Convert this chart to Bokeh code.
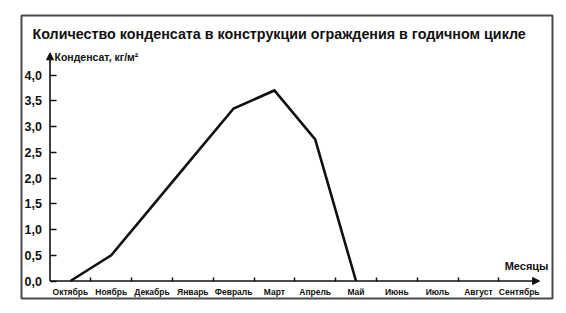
import math
from bokeh.plotting import figure
from bokeh.models import FixedTicker, Arrow, NormalHead, Label, Range1d
from bokeh.embed import file_html
from bokeh.resources import INLINE

months = ["Октябрь", "Ноябрь", "Декабрь", "Январь", "Февраль", "Март",
          "Апрель", "Май", "Июнь", "Июль", "Август", "Сентябрь"]
condensate = [0.0, 0.5, 1.45, 2.4, 3.35, 3.7, 2.75, 0.0,
              math.nan, math.nan, math.nan, math.nan]
y_ticks = [0.0, 0.5, 1.0, 1.5, 2.0, 2.5, 3.0, 3.5, 4.0]
title_text = "Количество конденсата в конструкции ограждения в годичном цикле"
y_label = "Конденсат, кг/м²"
x_label = "Месяцы"

n = len(months)
xs = [i + 0.5 for i in range(n)]
y_arrow = 4.43

# layout geometry (pixels)
W, H = 566, 313
BOX_L, BOX_R, BOX_T, BOX_B = 21, 552, 15, 298
ORIG_X, ORIG_Y = 49.5, 280.5
PX_X, PX_Y = 40.8, 51.5


def dx(px):
    return (px - ORIG_X) / PX_X


def dy(py):
    return (ORIG_Y - py) / PX_Y


FONT = "Liberation Sans"
INK = "#111111"

p = figure(width=W, height=H, output_backend="svg", toolbar_location=None,
           x_range=Range1d(dx(BOX_L), dx(BOX_R)),
           y_range=Range1d(dy(BOX_B), dy(BOX_T)),
           min_border_left=BOX_L, min_border_right=W - BOX_R,
           min_border_top=BOX_T, min_border_bottom=H - BOX_B,
           background_fill_color="white", border_fill_color="white",
           outline_line_color="#4a4a4a", outline_line_width=2)
p.grid.visible = False

# x axis
xa = p.xaxis[0]
xa.fixed_location = 0
xa.ticker = FixedTicker(ticks=xs, minor_ticks=list(range(1, n)))
xa.major_label_overrides = {x: m for x, m in zip(xs, months)}
xa.major_tick_in = 0
xa.major_tick_out = 0
xa.minor_tick_in = 4
xa.minor_tick_out = 0
xa.minor_tick_line_color = INK
xa.minor_tick_line_width = 1.5
xa.axis_line_color = None
xa.major_label_text_font = FONT
xa.major_label_text_font_size = "8.5px"
xa.major_label_text_font_style = "bold"
xa.major_label_text_color = INK
xa.major_label_standoff = 6

# y axis
ya = p.yaxis[0]
ya.fixed_location = 0
ya.ticker = FixedTicker(ticks=y_ticks, minor_ticks=[])
ya.major_label_overrides = {t: f"{t:.1f}".replace(".", ",") for t in y_ticks}
ya.major_tick_in = 6
ya.major_tick_out = 0
ya.major_tick_line_color = INK
ya.major_tick_line_width = 1.5
ya.axis_line_color = None
ya.major_label_text_font = FONT
ya.major_label_text_font_size = "12.5px"
ya.major_label_text_font_style = "bold"
ya.major_label_text_color = INK
ya.major_label_standoff = 8

# axis lines with arrows
p.add_layout(Arrow(end=NormalHead(size=7, fill_color=INK, line_color=INK),
                   x_start=0, y_start=0, x_end=n, y_end=0,
                   line_color=INK, line_width=1.6))
p.add_layout(Arrow(end=NormalHead(size=7, fill_color=INK, line_color=INK),
                   x_start=0, y_start=0, x_end=0, y_end=y_arrow,
                   line_color=INK, line_width=1.6))

p.line(xs, condensate, line_color=INK, line_width=2.6, line_join="miter")

p.add_layout(Label(x=dx(32), y=dy(33), text=title_text,
                   text_font=FONT, text_font_size="14.3px", text_font_style="bold",
                   text_baseline="middle", text_color=INK))
p.add_layout(Label(x=dx(54), y=dy(56), text=y_label,
                   text_font=FONT, text_font_size="10.5px", text_font_style="bold",
                   text_baseline="middle", text_color=INK))
p.add_layout(Label(x=dx(548), y=dy(265), text=x_label,
                   text_font=FONT, text_font_size="11px", text_font_style="bold",
                   text_align="right", text_baseline="middle", text_color=INK))

open("out.html", "w").write(file_html(p, INLINE))
